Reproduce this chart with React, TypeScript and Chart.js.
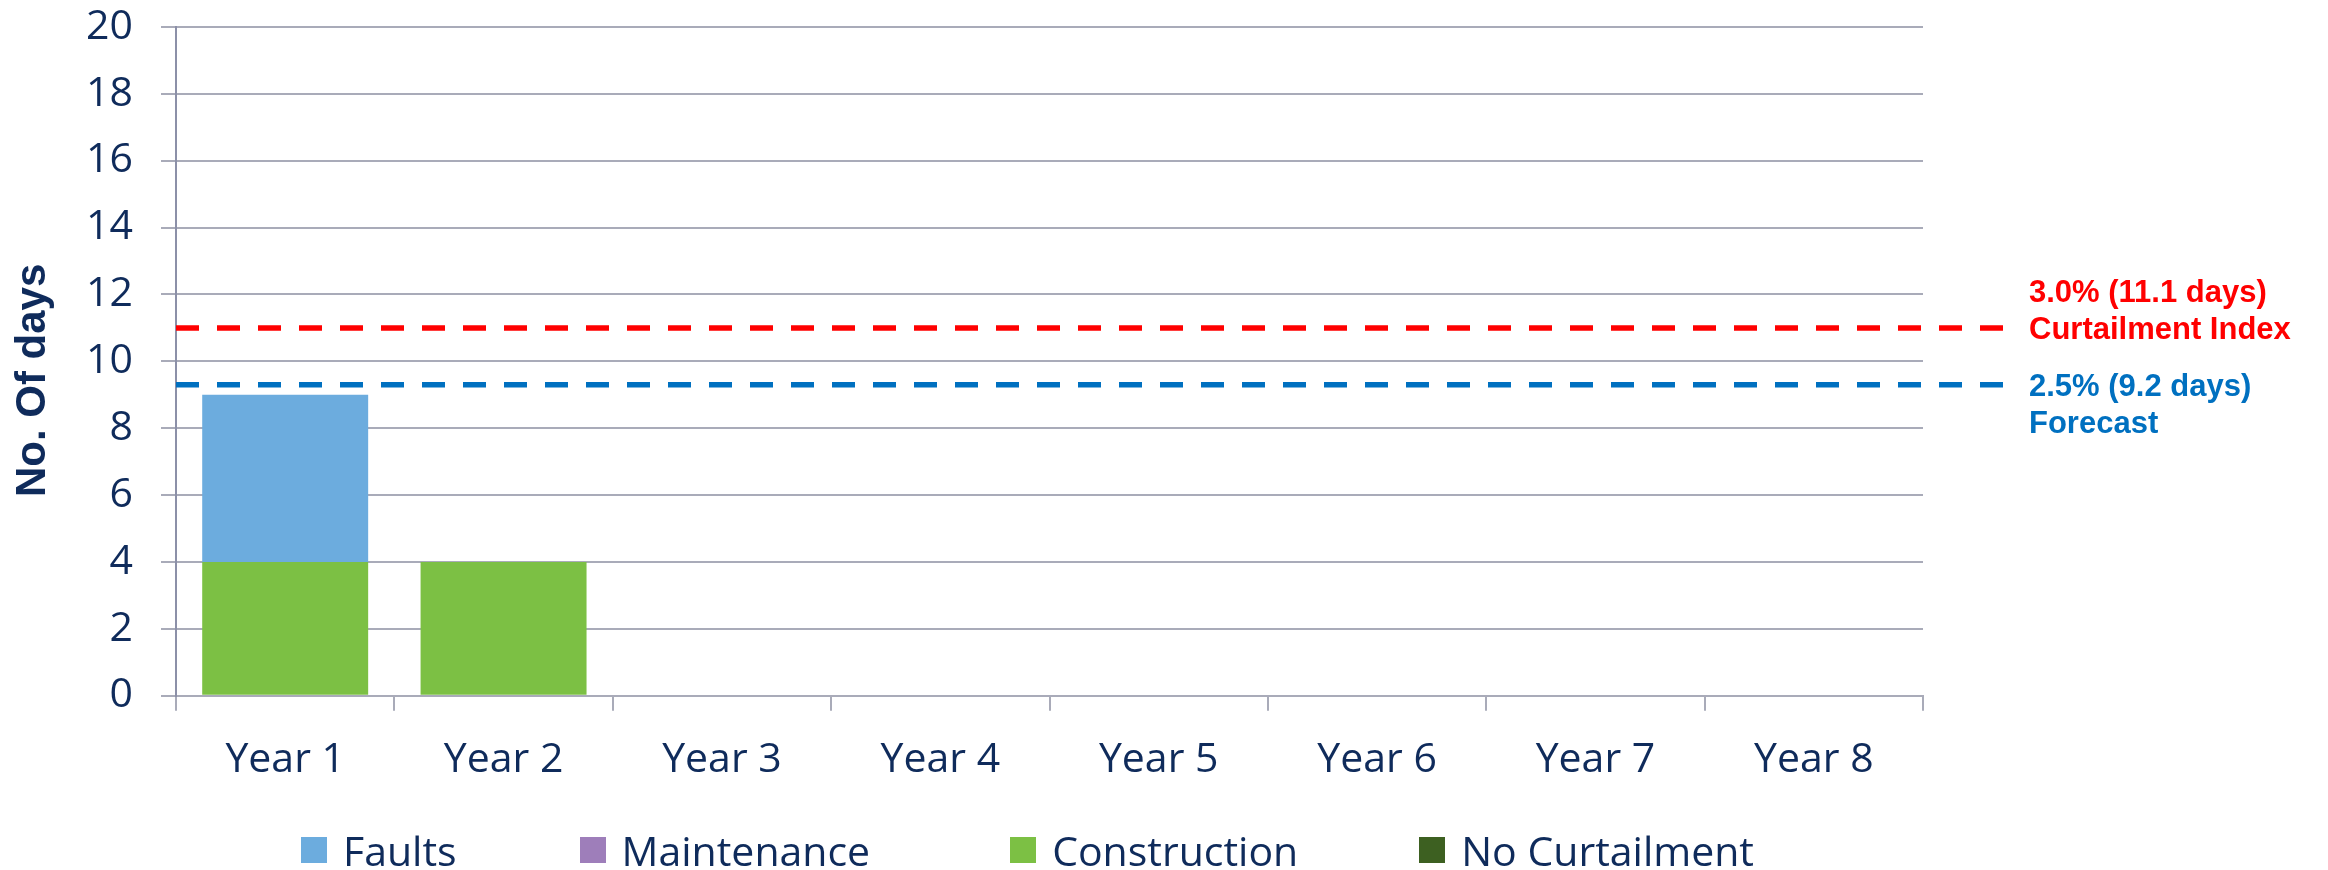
import React, { useEffect, useRef } from "react";
import { Chart, registerables } from "chart.js";

Chart.register(...registerables);

// ---- data ----
const categories = ["Year 1", "Year 2", "Year 3", "Year 4", "Year 5", "Year 6", "Year 7", "Year 8"];
const seriesNames = ["Faults", "Maintenance", "Construction", "No Curtailment"];
const faults = [5, 0, 0, 0, 0, 0, 0, 0];
const maintenance = [0, 0, 0, 0, 0, 0, 0, 0];
const construction = [4, 4, 0, 0, 0, 0, 0, 0];
const noCurtailment = [0, 0, 0, 0, 0, 0, 0, 0];
const seriesValues = [faults, maintenance, construction, noCurtailment];
const stackOrder = [1, 2, 0, 3]; // construction at the bottom of the stack

const yMin = 0;
const yMax = 20;
const yStep = 2;
const yTitle = "No. Of days";

const refValues = [11.0, 9.3];
const refLabels = [
  ["3.0% (11.1 days)", "Curtailment Index"],
  ["2.5% (9.2 days)", "Forecast"],
];
const refAnchorRow = [1, 0];

// ---- styles ----
const seriesColors = ["#6CACDE", "#9E7EBA", "#7CC044", "#3D6021"];
const refColors = ["#FF0000", "#0070C0"];
const legendGaps = [0, 123, 140, 121];
const navy = "#0F2B5B";
const gridColor = "#A9ABB9";
const axisColor = "#8C90A8";
const tickFont = { family: '"Open Sans", sans-serif', size: 41 };

const refLinePlugin = {
  id: "refLines",
  afterDatasetsDraw(chart: any) {
    const { ctx, chartArea, scales } = chart;
    const y = scales.y;
    refValues.forEach((v, i) => {
      const py = y.getPixelForValue(v);
      ctx.save();
      ctx.strokeStyle = refColors[i];
      ctx.lineWidth = 5.5;
      ctx.setLineDash([23, 18]);
      ctx.beginPath();
      ctx.moveTo(chartArea.left, py);
      ctx.lineTo(chartArea.right + 83, py);
      ctx.stroke();
      ctx.setLineDash([]);
      ctx.fillStyle = refColors[i];
      ctx.font = 'bold 31px "Liberation Sans", Arial, sans-serif';
      ctx.textAlign = "left";
      ctx.textBaseline = "alphabetic";
      refLabels[i].forEach((t, j) => {
        ctx.fillText(t, chartArea.right + 106, py + 11 + (j - refAnchorRow[i]) * 37);
      });
      ctx.restore();
    });
  },
};

const yTitlePlugin = {
  id: "yTitle",
  afterDraw(chart: any) {
    const { ctx, chartArea } = chart;
    ctx.save();
    ctx.translate(33, (chartArea.top + chartArea.bottom) / 2 + 19);
    ctx.rotate(-Math.PI / 2);
    ctx.fillStyle = navy;
    ctx.font = 'bold 42px "Liberation Sans", Arial, sans-serif';
    ctx.textAlign = "center";
    ctx.textBaseline = "middle";
    ctx.fillText(yTitle, 0, 0);
    ctx.restore();
  },
};

export default function App() {
  const ref = useRef<HTMLCanvasElement>(null);

  useEffect(() => {
    const chart = new Chart(ref.current as HTMLCanvasElement, {
      type: "bar",
      data: {
        labels: categories,
        datasets: seriesNames.map((name, i) => ({
          label: name,
          data: seriesValues[i],
          backgroundColor: seriesColors[i],
          borderWidth: 0,
          order: stackOrder[i],
          categoryPercentage: 0.76,
          barPercentage: 1,
        })),
      },
      options: {
        responsive: false,
        devicePixelRatio: 1,
        animation: false,
        layout: { padding: { left: 0, top: 27, right: 405, bottom: 0 } },
        plugins: {
          legend: { display: false },
          tooltip: { enabled: false },
        },
        scales: {
          x: {
            stacked: true,
            offset: true,
            grid: {
              display: true,
              drawOnChartArea: false,
              drawTicks: true,
              tickLength: 15,
              color: gridColor,
              lineWidth: 2,
              offset: true,
            },
            border: { display: true, color: gridColor, width: 2 },
            ticks: { padding: 25, color: navy, font: tickFont, maxRotation: 0 },
            afterFit: (s: any) => {
              s.height = 174.3;
            },
          },
          y: {
            stacked: true,
            min: yMin,
            max: yMax,
            ticks: { stepSize: yStep, padding: 28, color: navy, font: tickFont },
            grid: { color: gridColor, lineWidth: 2, tickLength: 15 },
            border: { display: true, color: axisColor, width: 2 },
            title: { display: false, text: yTitle },
            afterFit: (s: any) => {
              s.width = 176;
              s.paddingTop = 0;
              s.paddingBottom = 0;
            },
          },
        },
      },
      plugins: [refLinePlugin, yTitlePlugin],
    } as any);
    return () => chart.destroy();
  }, []);

  return (
    <div
      style={{
        position: "fixed",
        left: 0,
        top: 0,
        width: 2328,
        height: 870,
        background: "#ffffff",
        overflow: "hidden",
      }}
    >
      <canvas
        ref={ref}
        width={2328}
        height={870}
        style={{ position: "absolute", left: 0, top: 0, width: 2328, height: 870 }}
      />
      <div
        style={{
          position: "absolute",
          left: 301,
          top: 826,
          height: 48,
          display: "flex",
          alignItems: "center",
          whiteSpace: "nowrap",
        }}
      >
        {seriesNames.map((name, i) => (
          <div key={name} style={{ display: "flex", alignItems: "center", marginLeft: legendGaps[i] }}>
            <span style={{ width: 26, height: 26, background: seriesColors[i], marginRight: 16 }} />
            <span style={{ font: '41px "Open Sans", sans-serif', color: navy, lineHeight: "48px" }}>{name}</span>
          </div>
        ))}
      </div>
    </div>
  );
}
